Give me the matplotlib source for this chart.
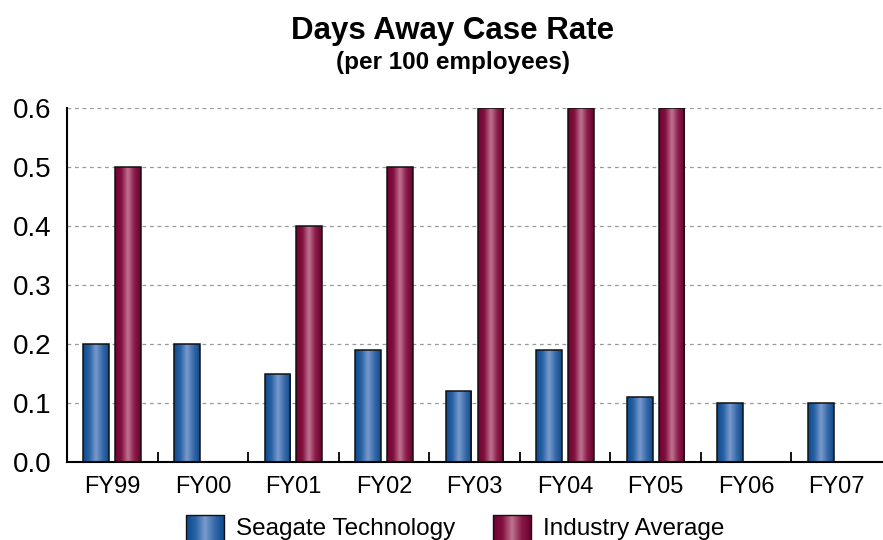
import numpy as np
import matplotlib
matplotlib.use("Agg")
import matplotlib.pyplot as plt
from matplotlib.colors import LinearSegmentedColormap

plt.rcParams["font.family"] = ["Liberation Sans", "DejaVu Sans"]

years = ["FY99", "FY00", "FY01", "FY02", "FY03", "FY04", "FY05", "FY06", "FY07"]
seagate = [0.20, 0.20, 0.15, 0.19, 0.12, 0.19, 0.11, 0.10, 0.10]
industry = [0.50, np.nan, 0.40, 0.50, 0.60, 0.60, 0.60, np.nan, np.nan]
yticks = [0.0, 0.1, 0.2, 0.3, 0.4, 0.5, 0.6]

blue_cmap = LinearSegmentedColormap.from_list(
    "blue", ["#0b4a8c", "#2a63a6", "#7a9bcd", "#3a6cab", "#0c4a8c"])
red_cmap = LinearSegmentedColormap.from_list(
    "red", ["#6e0232", "#84113f", "#c07594", "#8a1c48", "#6c0131"])
grad = np.linspace(0, 1, 64)[None, :]


def shade(ax, bars, cmap):
    # gradient fill clipped to each bar, cylinder look
    for b in bars:
        if np.isnan(b.get_height()):
            continue
        x0, y0 = b.get_x(), b.get_y()
        w, h = b.get_width(), b.get_height()
        im = ax.imshow(grad, cmap=cmap, aspect="auto", interpolation="bicubic",
                       extent=(x0, x0 + w, y0, y0 + h), zorder=2)
        im.set_clip_path(b)


fig = plt.figure(figsize=(8.83, 5.4), dpi=100)
ax = fig.add_axes([67 / 883, 1 - 462 / 540, 815 / 883, 354 / 540])

x = np.arange(len(years))
w = 0.285
off = 0.176
b1 = ax.bar(x - off, seagate, w, facecolor="none", edgecolor="#111111", lw=1.1, zorder=3)
b2 = ax.bar(x + off, industry, w, facecolor="none", edgecolor="#111111", lw=1.1, zorder=3)
shade(ax, b1, blue_cmap)
shade(ax, b2, red_cmap)

ax.set_xlim(-0.5, len(years) - 0.5)
ax.set_ylim(0, 0.6)
ax.set_yticks(yticks)
ax.set_yticklabels([f"{v:.1f}" for v in yticks], fontsize=20)
ax.set_xticks(x)
ax.set_xticklabels(years, fontsize=17)
ax.tick_params(axis="x", length=0, pad=10)
ax.tick_params(axis="y", length=0, pad=11)
# small tick marks between categories, pointing up
ax.set_xticks(x[:-1] + 0.5, minor=True)
ax.tick_params(axis="x", which="minor", direction="in", length=7, width=1.3)

ax.yaxis.grid(True, ls=(0, (3, 3)), color="#999999", lw=0.9)
ax.set_axisbelow(True)
for s in ["top", "right"]:
    ax.spines[s].set_visible(False)
ax.spines["left"].set_linewidth(1.5)
ax.spines["bottom"].set_linewidth(1.5)

fig.text(453 / 883, 1 - 31 / 540, "Days Away Case Rate", ha="center", va="center",
         fontsize=22.5, fontweight="bold")
fig.text(453 / 883, 1 - 63 / 540, "(per 100 employees)", ha="center", va="center",
         fontsize=17.5, fontweight="bold")

# legend drawn in pixel space at the bottom
lax = fig.add_axes([0, 0, 1, 45 / 540])
lax.axis("off")
for (x0, cmap, label) in [(186, blue_cmap, "Seagate Technology"),
                          (493, red_cmap, "Industry Average")]:
    lax.imshow(grad, cmap=cmap, aspect="auto", interpolation="bicubic",
               extent=(x0, x0 + 38, 48, 20))
    lax.plot([x0, x0, x0 + 38, x0 + 38], [48, 20, 20, 48], color="#111111", lw=1.0)
    lax.text(x0 + 50, 34, label, fontsize=17.5, va="center", ha="left")
lax.set_xlim(0, 883)
lax.set_ylim(45, 0)

fig.savefig("out.png", dpi=100)
